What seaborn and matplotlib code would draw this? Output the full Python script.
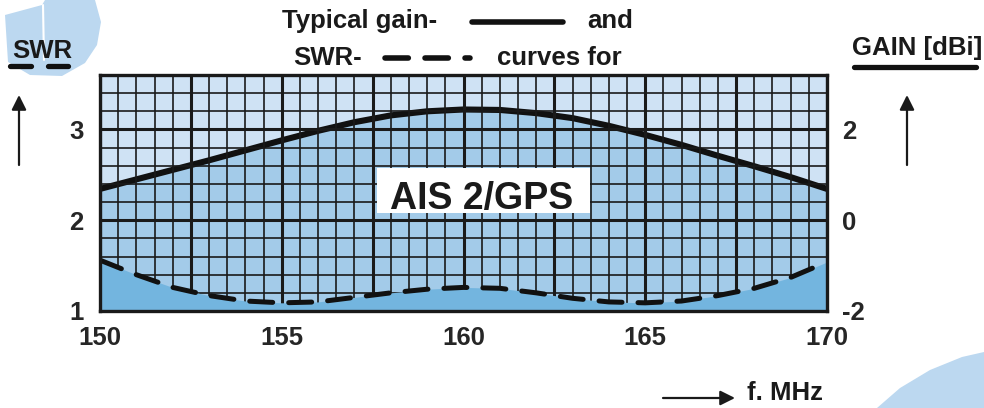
import numpy as np
import seaborn as sns
import matplotlib.pyplot as plt
from matplotlib.lines import Line2D
from matplotlib.patches import Polygon, Rectangle

# Frecuencia (MHz) y curvas
freq = [150, 151, 152, 153, 154, 155, 156, 157, 158, 159, 160,
        161, 162, 163, 164, 165, 166, 167, 168, 169, 170]
gain_dbi = [0.69, 0.90, 1.11, 1.32, 1.54, 1.76, 1.97, 2.16, 2.31, 2.40, 2.44,
            2.43, 2.36, 2.25, 2.08, 1.88, 1.66, 1.42, 1.19, 0.95, 0.69]
swr = [1.56, 1.40, 1.26, 1.17, 1.11, 1.09, 1.10, 1.15, 1.20, 1.24, 1.26,
       1.25, 1.20, 1.14, 1.10, 1.09, 1.11, 1.17, 1.25, 1.37, 1.54]

freq_labels = ['150', '', '155', '', '160', '', '165', '', '170']
swr_ticks = [1, 2, 3]
gain_ticks = [-2, 0, 2]

LIGHT = '#cfe2f4'
MEDIUM = '#a3cbe9'
DARK = '#73b5df'
INK = '#1a1a1a'
W, H = 984, 408
FS = 18.5


def fx(x):
    return x / W


def fy(y):
    return 1 - y / H


sns.set_theme(style='white')
plt.rcParams['font.family'] = ['Liberation Sans', 'DejaVu Sans']
plt.rcParams['font.weight'] = 'bold'
plt.rcParams['text.color'] = INK
plt.rcParams['axes.unicode_minus'] = False

fig = plt.figure(figsize=(9.84, 4.08), dpi=100)

# marcas de agua del logo
fig.add_artist(Polygon([(fx(5), fy(15)), (fx(42), fy(5)), (fx(45), fy(0)), (fx(95), fy(0)),
                        (fx(101), fy(22)), (fx(97), fy(45)), (fx(85), fy(63)), (fx(62), fy(76)),
                        (fx(30), fy(75)), (fx(8), fy(62))],
                       closed=True, transform=fig.transFigure, color='#bcd8f0', lw=0, zorder=-1))
fig.add_artist(Line2D([fx(43), fx(44)], [fy(5), fy(60)], transform=fig.transFigure,
                      color='white', lw=1.5, zorder=-0.5))
fig.add_artist(Polygon([(fx(877), fy(408)), (fx(900), fy(388)), (fx(930), fy(370)), (fx(962), fy(357)),
                        (fx(984), fy(352)), (fx(984), fy(408))],
                       closed=True, transform=fig.transFigure, color='#bcd8f0', lw=0, zorder=-1))

ax = fig.add_axes([100 / W, 1 - 311 / H, 727 / W, 236 / H])
ax2 = ax.twinx()
ax.set_zorder(2)
ax2.set_zorder(1)
ax.patch.set_visible(False)
ax2.patch.set_visible(True)
ax2.set_facecolor(LIGHT)

# ganancia (eje derecho, capa inferior)
ax2.fill_between(freq, -2, gain_dbi, color=MEDIUM, lw=0)
sns.lineplot(x=freq, y=gain_dbi, ax=ax2, color='#111111', lw=4.4)
ax2.set_ylim(-2, 3.2)
ax2.set_yticks(gain_ticks)
ax2.tick_params(axis='y', length=0, pad=11, labelsize=FS)
for s in ax2.spines.values():
    s.set_visible(False)

# SWR (eje izquierdo, capa superior)
ax.fill_between(freq, 1, swr, color=DARK, lw=0)
sns.lineplot(x=freq, y=swr, ax=ax, color='#111111', lw=3.6,
             linestyle=(0, (4.6, 3.2)), dash_capstyle='round')
ax.set_xlim(150, 170)
ax.set_ylim(1, 3.6)
ax.set_xticks(np.arange(150, 170.01, 2.5))
ax.set_xticklabels(freq_labels)
ax.set_xticks(np.arange(150, 170.01, 0.5), minor=True)
ax.set_yticks(swr_ticks)
ax.set_yticklabels([str(v) for v in swr_ticks])
ax.set_yticks(np.arange(1, 3.61, 0.2), minor=True)
ax.grid(which='minor', color=INK, lw=1.2)
ax.grid(which='major', color=INK, lw=2.2)
ax.tick_params(which='both', length=0, labelsize=FS, pad=12)
ax.tick_params(axis='x', pad=11)
for s in ax.spines.values():
    s.set_visible(True)
    s.set_color(INK)
    s.set_linewidth(2.4)

ax.add_patch(Rectangle((0.381, 0.415), 0.293, 0.191, transform=ax.transAxes,
                       fc='white', ec='none', zorder=5))
ax.text(0.5248, 0.432, 'AIS 2/GPS', transform=ax.transAxes, ha='center', va='baseline',
        fontsize=27, fontweight='bold', zorder=6)

# titulo con leyenda de lineas
fig.text(fx(282), fy(28), 'Typical gain-', fontsize=FS, fontweight='bold', va='baseline')
fig.text(fx(587), fy(28), 'and', fontsize=FS, fontweight='bold', va='baseline')
fig.text(fx(293), fy(65), 'SWR-', fontsize=FS, fontweight='bold', va='baseline')
fig.text(fx(497), fy(65), 'curves for', fontsize=FS, fontweight='bold', va='baseline')
fig.add_artist(Line2D([fx(472), fx(563)], [fy(22), fy(22)], transform=fig.transFigure,
                      color='#111111', lw=4.0, solid_capstyle='round'))
fig.add_artist(Line2D([fx(385), fx(470)], [fy(58), fy(58)], transform=fig.transFigure,
                      color='#111111', lw=4.0, linestyle=(0, (4.2, 3.0)), dash_capstyle='round'))

# etiquetas de ejes
fig.text(fx(12), fy(58), 'SWR', fontsize=FS, fontweight='bold', va='baseline')
for x0, x1 in [(10, 31), (48, 68)]:
    fig.add_artist(Line2D([fx(x0), fx(x1)], [fy(66), fy(66)], transform=fig.transFigure,
                          color='#111111', lw=3.8, solid_capstyle='round'))
fig.text(fx(852), fy(55), 'GAIN [dBi]', fontsize=FS, fontweight='bold', va='baseline')
fig.add_artist(Line2D([fx(854), fx(976)], [fy(67), fy(67)], transform=fig.transFigure,
                      color='#111111', lw=3.8, solid_capstyle='round'))
fig.text(fx(747), fy(400), 'f. MHz', fontsize=FS, fontweight='bold', va='baseline')

arrow = dict(arrowstyle='-|>', lw=1.6, color=INK, mutation_scale=22, shrinkA=0, shrinkB=0)
ax.annotate('', xy=(19, H - 95), xytext=(19, H - 165), xycoords='figure pixels',
            textcoords='figure pixels', arrowprops=arrow, annotation_clip=False)
ax.annotate('', xy=(907, H - 95), xytext=(907, H - 165), xycoords='figure pixels',
            textcoords='figure pixels', arrowprops=arrow, annotation_clip=False)
ax.annotate('', xy=(735, H - 398), xytext=(663, H - 398), xycoords='figure pixels',
            textcoords='figure pixels', arrowprops=arrow, annotation_clip=False)

fig.savefig('out.png', dpi=100)
